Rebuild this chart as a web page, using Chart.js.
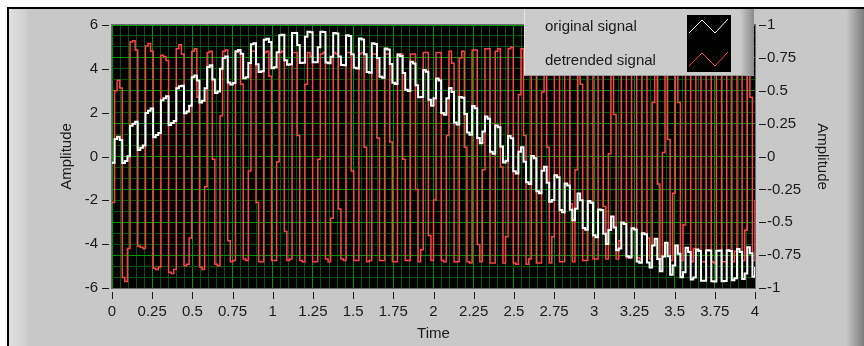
<!DOCTYPE html>
<html lang="en">
<head>
<meta charset="utf-8">
<title>Detrend</title>
<script src="https://cdn.jsdelivr.net/npm/chart.js@4.4.1/dist/chart.umd.min.js"></script>
<style>
  body { margin: 0; background: #fff; }
  #marco { width: 864px; height: 346px; }
</style>
</head>
<body>
<div id="marco"><canvas id="grafica" width="864" height="346"></canvas></div>
<script>
// forma de onda: instante inicial, intervalo de muestreo y muestras
const t0 = 0;
const dt = 0.016;

// señal original (eje izquierdo)
const senalOriginal = [
  -0.28, 0.80, 0.90, 0.75, -0.30, -0.20, 0.01, 1.40, 1.50, 1.59,
  0.30, 0.40, 0.50, 1.99, 2.09, 2.19, 0.88, 0.98, 1.07, 2.57,
  2.66, 2.75, 1.44, 1.53, 1.62, 3.11, 3.20, 3.23, 1.97, 2.05,
  2.31, 3.62, 3.70, 3.47, 2.46, 2.54, 3.11, 4.08, 4.16, 3.51,
  2.90, 2.97, 4.00, 4.50, 4.56, 3.38, 3.29, 3.35, 4.80, 4.86,
  4.69, 3.57, 3.62, 4.27, 5.12, 5.17, 4.21, 3.85, 3.89, 5.33,
  5.37, 5.22, 4.03, 4.07, 4.76, 5.53, 5.55, 4.39, 4.19, 4.21,
  5.63, 5.64, 5.09, 4.27, 4.28, 5.46, 5.69, 5.67, 4.30, 4.30,
  4.99, 5.69, 5.68, 4.29, 4.26, 4.55, 5.63, 5.61, 4.56, 4.18,
  4.16, 5.53, 5.50, 4.67, 4.05, 4.02, 5.38, 5.34, 4.66, 3.86,
  3.82, 5.17, 5.13, 4.50, 3.64, 3.59, 4.93, 4.88, 4.22, 3.37,
  3.31, 4.65, 4.58, 3.81, 3.05, 2.99, 4.32, 4.24, 3.25, 2.70,
  2.72, 3.95, 3.87, 2.59, 2.32, 2.66, 3.56, 3.47, 1.99, 1.90,
  2.66, 3.13, 2.94, 1.55, 1.46, 2.71, 2.68, 1.94, 1.09, 0.99,
  2.30, 2.20, 0.84, 0.61, 1.14, 1.82, 1.72, 0.22, 0.13, 1.41,
  1.33, 0.46, -0.27, -0.19, 0.93, 0.83, -0.67, -0.77, 0.22, 0.42,
  -0.24, -1.18, -1.25, 0.02, -0.08, -1.58, -1.68, -0.65, -0.47, -1.20,
  -2.06, -1.98, -0.85, -0.95, -2.44, -2.54, -1.23, -1.32, -2.43, -2.91,
  -2.38, -1.69, -2.00, -3.26, -3.34, -2.03, -2.11, -3.59, -3.68, -2.42,
  -2.44, -3.53, -3.99, -3.35, -2.74, -3.24, -4.28, -4.20, -3.01, -3.08,
  -4.55, -4.61, -3.27, -3.33, -4.79, -4.85, -3.50, -3.55, -4.84, -5.06,
  -4.06, -3.75, -4.68, -5.24, -4.56, -3.93, -4.55, -5.39, -4.97, -4.06,
  -4.44, -5.51, -5.28, -4.16, -4.36, -5.61, -5.52, -4.24, -4.31, -5.67,
  -5.67, -4.28, -4.29, -5.69, -5.70, -4.30, -4.29, -5.69, -5.68, -4.28,
  -4.31, -5.65, -5.56, -4.22, -4.36, -5.59, -5.34, -4.14, -4.42, -5.49,
  -5.04
];

// señal sin tendencia (eje derecho)
const senalSinTendencia = [
  -0.35, 0.50, 0.58, 0.52, -0.92, -0.95, -0.70, 0.87, 0.88, 0.81,
  -0.68, -0.69, -0.70, 0.84, 0.86, 0.80, -0.85, -0.86, -0.84, 0.77,
  0.76, 0.73, -0.88, -0.89, -0.86, 0.82, 0.85, 0.78, -0.83, -0.82,
  -0.62, 0.80, 0.82, 0.45, -0.84, -0.86, -0.23, 0.79, 0.80, -0.02,
  -0.82, -0.83, 0.31, 0.80, 0.81, -0.64, -0.80, -0.79, 0.79, 0.80,
  0.55, -0.78, -0.79, -0.11, 0.80, 0.80, -0.35, -0.80, -0.80, 0.79,
  0.80, 0.61, -0.79, -0.79, -0.04, 0.79, 0.80, -0.57, -0.79, -0.78,
  0.79, 0.79, 0.16, -0.79, -0.80, 0.55, 0.79, 0.76, -0.80, -0.80,
  -0.02, 0.78, 0.79, -0.78, -0.80, -0.47, 0.79, 0.78, -0.40, -0.78,
  -0.79, 0.79, 0.79, -0.11, -0.79, -0.79, 0.78, 0.79, 0.07, -0.80,
  -0.79, 0.78, 0.78, 0.14, -0.79, -0.79, 0.78, 0.78, 0.11, -0.80,
  -0.80, 0.78, 0.78, -0.02, -0.79, -0.79, 0.78, 0.78, -0.25, -0.80,
  -0.71, 0.79, 0.79, -0.60, -0.79, -0.33, 0.79, 0.79, -0.79, -0.80,
  0.16, 0.80, 0.71, -0.80, -0.80, 0.75, 0.80, 0.07, -0.80, -0.81,
  0.81, 0.81, -0.67, -0.80, -0.10, 0.82, 0.82, -0.81, -0.81, 0.80,
  0.82, -0.08, -0.81, -0.61, 0.82, 0.83, -0.81, -0.82, 0.47, 0.82,
  0.16, -0.82, -0.78, 0.83, 0.83, -0.81, -0.81, 0.49, 0.83, 0.07,
  -0.81, -0.61, 0.84, 0.84, -0.80, -0.80, 0.84, 0.85, -0.36, -0.80,
  -0.10, 0.84, 0.55, -0.79, -0.79, 0.84, 0.84, -0.78, -0.78, 0.75,
  0.83, -0.38, -0.78, 0.02, 0.83, 0.32, -0.78, -0.64, 0.83, 0.83,
  -0.77, -0.77, 0.82, 0.82, -0.77, -0.78, 0.82, 0.82, -0.62, -0.78,
  0.41, 0.82, -0.21, -0.78, 0.03, 0.82, 0.13, -0.79, -0.28, 0.82,
  0.41, -0.79, -0.52, 0.82, 0.62, -0.80, -0.70, 0.82, 0.75, -0.80,
  -0.80, 0.82, 0.82, -0.80, -0.81, 0.82, 0.82, -0.80, -0.80, 0.82,
  0.77, -0.80, -0.72, 0.82, 0.65, -0.79, -0.56, 0.82, 0.45, -0.79,
  -0.33
];

// etiquetas de los ejes
const marcasTiempo = [0, 0.25, 0.5, 0.75, 1, 1.25, 1.5, 1.75, 2, 2.25, 2.5, 2.75, 3, 3.25, 3.5, 3.75, 4];
const marcasIzq = [6, 4, 2, 0, -2, -4, -6];
const marcasDer = [1, 0.75, 0.5, 0.25, 0, -0.25, -0.5, -0.75, -1];

const verdeFuerte = '#009a00';
const verdeSuave = '#005a00';
const textoOscuro = '#1a1a1a';

function esMarca(lista, v) {
  return lista.some(m => Math.abs(m - v) < 1e-6);
}

function puntos(serie) {
  return serie.map((v, i) => ({ x: +(t0 + i * dt).toFixed(3), y: v }));
}

// panel gris, marco negro y fondo del trazado
const fondo = {
  id: 'fondo',
  beforeDraw(chart) {
    const ctx = chart.ctx, a = chart.chartArea;
    const w = chart.width, h = chart.height;
    ctx.save();
    ctx.fillStyle = '#ffffff';
    ctx.fillRect(0, 0, w, h);
    ctx.fillStyle = '#c8c8c8';
    ctx.fillRect(8, 8, w - 8, h - 8);
    let g = ctx.createLinearGradient(9, 0, 28, 0);
    g.addColorStop(0, '#e0e0e0');
    g.addColorStop(1, '#cdcdcd');
    ctx.fillStyle = g;
    ctx.fillRect(9, 9, 19, h - 9);
    g = ctx.createLinearGradient(846, 0, 864, 0);
    g.addColorStop(0, '#c8c8c8');
    g.addColorStop(1, '#7c7c7c');
    ctx.fillStyle = g;
    ctx.fillRect(846, 9, 18, h - 9);
    ctx.fillStyle = '#000';
    ctx.fillRect(7, 7, w - 7, 2);
    ctx.fillRect(7, 7, 2, h - 7);
    ctx.fillRect(a.left, a.top, a.right - a.left, a.bottom - a.top);
    ctx.restore();
  },
  afterDatasetsDraw(chart) {
    const ctx = chart.ctx, a = chart.chartArea;
    ctx.save();
    ctx.strokeStyle = '#6a6a6a';
    ctx.lineWidth = 1;
    ctx.strokeRect(a.left - 0.5, a.top - 0.5, a.right - a.left + 1, a.bottom - a.top + 1);
    ctx.restore();
  }
};

// rayitas de las escalas, separadas del área de trazado
const rayitas = {
  id: 'rayitas',
  afterDraw(chart) {
    const ctx = chart.ctx, a = chart.chartArea, s = chart.scales;
    ctx.save();
    ctx.strokeStyle = textoOscuro;
    ctx.lineWidth = 1;
    ctx.beginPath();
    marcasTiempo.forEach(v => {
      const px = Math.round(s.x.getPixelForValue(v)) + 0.5;
      ctx.moveTo(px, a.bottom + 4);
      ctx.lineTo(px, a.bottom + 11);
    });
    marcasIzq.forEach(v => {
      const py = Math.round(s.y.getPixelForValue(v)) + 0.5;
      ctx.moveTo(a.left - 10, py);
      ctx.lineTo(a.left - 3, py);
    });
    marcasDer.forEach(v => {
      const py = Math.round(s.y1.getPixelForValue(v)) + 0.5;
      ctx.moveTo(a.right + 4, py);
      ctx.lineTo(a.right + 11, py);
    });
    ctx.stroke();
    ctx.restore();
  }
};

// leyenda con muestras de cada trazo
const leyenda = {
  id: 'leyenda',
  afterDraw(chart) {
    const ctx = chart.ctx;
    const ds = chart.data.datasets;
    ctx.save();
    ctx.fillStyle = '#cbcbcb';
    ctx.fillRect(524, 9, 230, 67);
    const g = ctx.createLinearGradient(741, 0, 754, 0);
    g.addColorStop(0, '#c6c6c6');
    g.addColorStop(1, '#8a8a8a');
    ctx.fillStyle = g;
    ctx.fillRect(741, 9, 13, 67);
    ctx.fillStyle = '#e4e4e4';
    ctx.fillRect(524, 9, 1, 67);
    ctx.fillStyle = '#9a9a9a';
    ctx.fillRect(524, 75, 230, 1);

    ctx.font = '15px "Liberation Sans", Arial, sans-serif';
    ctx.fillStyle = textoOscuro;
    ctx.textBaseline = 'middle';
    ctx.textAlign = 'left';
    ctx.fillText(ds[0].label, 545, 27);
    ctx.fillText(ds[1].label, 545, 61);

    ctx.fillStyle = '#000';
    ctx.fillRect(687, 15, 44, 57);
    ctx.lineWidth = 1;
    [[ds[0].borderColor, 0], [ds[1].borderColor, 33]].forEach(([color, dy]) => {
      ctx.strokeStyle = color;
      ctx.beginPath();
      ctx.moveTo(689, 33 + dy);
      ctx.lineTo(702, 20 + dy);
      ctx.lineTo(715, 33 + dy);
      ctx.lineTo(728, 19 + dy);
      ctx.stroke();
    });
    ctx.restore();
  }
};

Chart.defaults.font.family = '"Liberation Sans", Arial, sans-serif';
Chart.defaults.font.size = 15;
Chart.defaults.color = textoOscuro;

new Chart(document.getElementById('grafica'), {
  type: 'line',
  data: {
    datasets: [{
      // la original se pinta por encima
      label: 'original signal',
      data: puntos(senalOriginal),
      yAxisID: 'y',
      borderColor: '#ffffff',
      borderWidth: 2,
      stepped: true,
      pointRadius: 0,
      order: 0
    }, {
      label: 'detrended signal',
      data: puntos(senalSinTendencia),
      yAxisID: 'y1',
      borderColor: '#ff4444',
      borderWidth: 1.5,
      stepped: true,
      pointRadius: 0,
      order: 1
    }]
  },
  options: {
    responsive: false,
    animation: false,
    events: [],
    layout: { padding: { left: 0, right: 0, top: 25, bottom: 0 } },
    plugins: { legend: { display: false }, tooltip: { enabled: false } },
    scales: {
      x: {
        type: 'linear',
        min: 0,
        max: 4,
        afterFit(escala) { escala.height = 58; },
        border: { display: false },
        grid: {
          drawTicks: false,
          color: c => esMarca(marcasTiempo, c.tick.value) ? verdeFuerte : verdeSuave
        },
        ticks: {
          stepSize: 0.05,
          autoSkip: false,
          maxRotation: 0,
          padding: 15,
          callback: v => esMarca(marcasTiempo, v) ? String(+v.toFixed(2)) : ''
        },
        title: { display: true, text: 'Time', padding: { top: 0, bottom: 3 } }
      },
      y: {
        position: 'left',
        min: -6,
        max: 6,
        afterFit(escala) { escala.width = 112; },
        border: { display: false },
        grid: {
          drawTicks: false,
          color: c => esMarca(marcasDer, c.tick.value / 6) ? verdeFuerte : verdeSuave
        },
        ticks: {
          stepSize: 0.5,
          autoSkip: false,
          padding: 14,
          callback: v => esMarca(marcasIzq, v) ? String(v) : ''
        },
        title: { display: true, text: 'Amplitude', padding: { top: 58, bottom: 0 } }
      },
      y1: {
        position: 'right',
        min: -1,
        max: 1,
        afterFit(escala) { escala.width = 109; },
        border: { display: false },
        grid: { display: false, drawTicks: false },
        ticks: {
          stepSize: 0.25,
          autoSkip: false,
          padding: 12,
          callback: v => String(+v.toFixed(2))
        },
        title: { display: true, text: 'Amplitude', padding: { top: 33, bottom: 0 } }
      }
    }
  },
  plugins: [fondo, rayitas, leyenda]
});
</script>
</body>
</html>
